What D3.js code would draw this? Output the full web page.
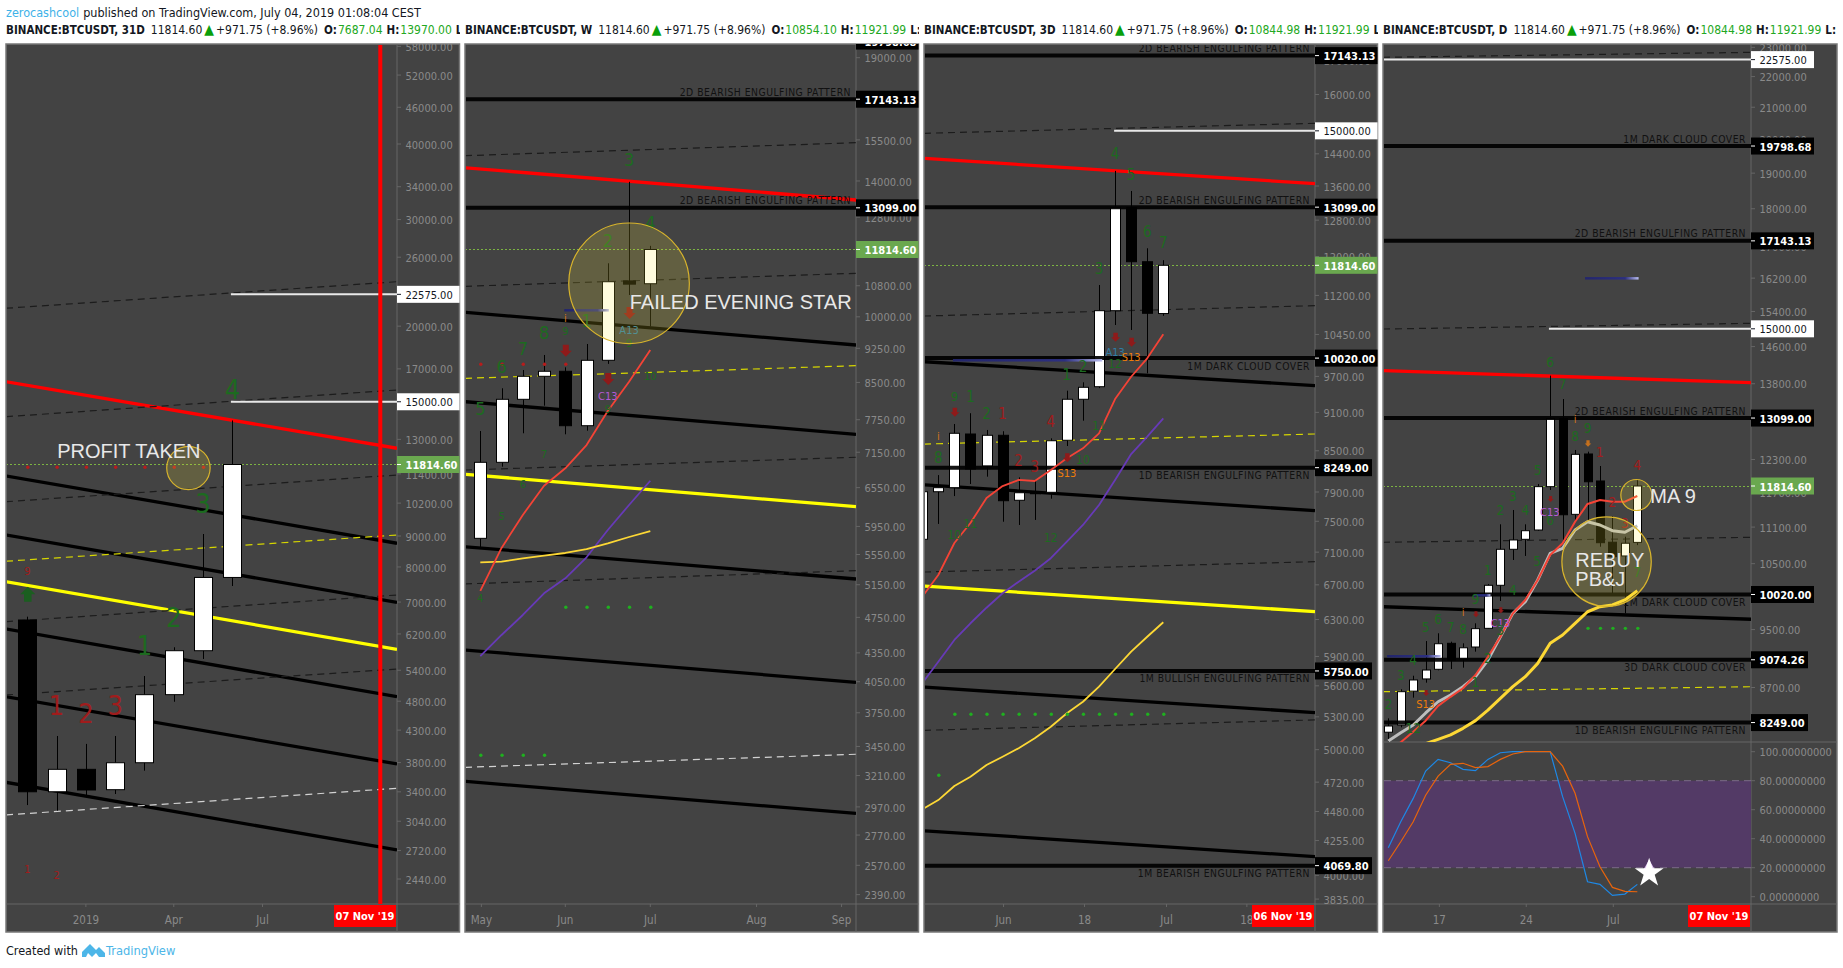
<!DOCTYPE html>
<html><head><meta charset="utf-8"><title>BTCUSDT</title>
<script src="https://cdn.jsdelivr.net/npm/d3@7"></script>
<style>html,body{margin:0;padding:0;background:#fff}svg{display:block}</style></head><body>
<svg id="c" width="1843" height="968"></svg>
<script>
// ---------- shared values ----------
const lastPrice = 11814.60;
const headerLine = "published on TradingView.com, July 04, 2019 01:08:04 CEST";
const patternBE2D = "2D BEARISH ENGULFING PATTERN", patternBE1D = "1D BEARISH ENGULFING PATTERN",
      patternBE1M = "1M BEARISH ENGULFING PATTERN", patternBU1M = "1M BULLISH ENGULFING PATTERN",
      patternDC1M = "1M DARK CLOUD COVER", patternDC3D = "3D DARK CLOUD COVER";

// ---------- 31D panel ----------
const p1Title = ["BINANCE:BTCUSDT, 31D", "7687.04", "13970.00"];
const p1Ohlc = [[6538,6621,3233,3401],[3401,4205,3165,3704],[3704,4080,3359,3424],[3428,4205,3372,3798],
  [3798,5283,3685,4921],[4921,5894,4790,5817],[5817,9069,5637,7687],[7687.04,13970,7441,11814.6]];
const p1Trends = [[16190,12566,"red"],[11309,8755,"black"],[9035,6993,"black"],[7563,5848,"yellow"],[6318,4883,"black"],
  [4883,3781,"black"],[3525,2725,"black"],[21408,23688,"dash"],[14172,15688,"dash"],[10255,11352,"dash"],[8175,9035,"ydash"],
  [6496,7191,"dash"],[4915,5425,"dash"],[3114,3446,"wdash"]];
const p1Ticks = [58000,52000,46000,40000,34000,30000,26000,20000,17000,13000,11400,10200,9000,8000,7000,6200,5400,4800,4300,3800,3400,3040,2720,2440];
const p1Whites = [[22575,6.95],[15000,6.95]];
const p1Levels = [];
const p1TimeTicks = [[2,"2019"],[5,"Apr"],[8.03,"Jul"]];
const p1Texts = [[7,15160,"4","g",27],[6,9812,"3","g",27],[5,6374,"2","g",27],[4,5723,"1","g",27],
  [1,4554,"1","r",27],[2,4412,"2","r",27],[3,4554,"3","r",27],[0,7759,"9","r",11],[0,2494,"1","r",11],[1,2437,"2","r",11]];
const p1Dots = [[0,11689,"r"],[1,11689,"r"],[2,11689,"r"],[3,11689,"r"],[4,11689,"r"],[5,11689,"r"],[6,11689,"r"]];
const p1Arrows = [[0,7420,"up",15]];
const p1Circles = [[5.5,11659,21.7]];
const p1Notes = [[1.02,12110,"PROFIT TAKEN"]];

// ---------- weekly panel ----------
const p2Title = ["BINANCE:BTCUSDT, W", "10854.10", "11921.99"];
const p2Ohlc = [[5777,7536,5636,6974],[6974,8378,6899,8152],[8152,8766,7494,8630],[8630,9098,8024,8738],[8738,8824,7475,7636],
  [7636,9349,7542,8979],[8979,11418,8900,10908],[10930,13970,10555,10843],[10854.1,11921.99,9760,11814.6]];
const p2Trends = [[14468,13355,"red"],[14905,15393,"dash"],[10785,11138,"dash"],[10112,9325,"black"],[8587,8860,"ydash"],[8104,7475,"black"],
  [6842,7062,"dash"],[6770,6248,"yellow"],[5658,5223,"black"],[5160,5332,"dash"],[4381,4044,"black"],[3276,3384,"wdash"],[3164,2923,"black"]];
const p2MaRed = [5071,5641,6121,6581,6871,7279,7919,8515,9211];
const p2MaPurple = [4316,4547,4778,5041,5232,5512,5898,6274,6663];
const p2MaYellow = [5444,5452,5498,5534,5571,5626,5706,5796,5882];
const p2Ticks = [19000,15500,14000,12800,11800,10800,10000,9250,8500,7750,7150,6550,5950,5550,5150,4750,4350,4050,3750,3450,3210,2970,2770,2570,2390];
const p2Levels = [[19798.68,""],[17143.13,patternBE2D,"above"],[13099,patternBE2D,"above"]];
const p2TimeTicks = [[0.05,"May"],[4,"Jun"],[8,"Jul"],[13,"Aug"],[17,"Sep"]];
const p2Texts = [[7,14530,"3","g",18],[8,12440,"4","g",18],[6,11879,"2","g",18],[5,9759,"1","g",18],[3,9459,"8","g",18],[2,9098,"7","g",18],[1,8707,"6","g",18],[0,7841,"5","g",18],
  [4,9553,"9","g",11],[7,9286,"9","g",11],[8,8552,"10","g",11],[6,7886,"9","g",11],[3,7044,"7","g",11],[2,6549,"6","g",11],[1,6046,"5","g",11],[0,4937,"4","g",11],
  [4,9880,"i","o",11],[7,9577,"A13","a",11],[6,8138,"C13","c",11]];
const p2Dots = [[0,3376,"g"],[1,3376,"g"],[2,3376,"g"],[3,3376,"g"],[4,4870,"g"],[5,4870,"g"],[6,4870,"g"],[7,4870,"g"],[8,4870,"g"],
  [0,8890,"r"],[1,8890,"r"],[2,8890,"r"],[3,8890,"r"],[4,8890,"r"]];
const p2Arrows = [[4,9059,"down",12],[7,9946,"down",12],[6,8445,"down",12]];
const p2Bands = [[3.95,6.05,10163]];
const p2Circles = [[7,10866,60.3]];
const p2Notes = [[7.03,10196,"FAILED EVENING STAR"]];

// ---------- 3D panel ----------
const p3Title = ["BINANCE:BTCUSDT, 3D", "10844.98", "11921.99"];
const p3Ohlc = [[7264,7980,7200,7904],[7904,8141,7465,7961],[7961,8914,7843,8768],[8757,9086,8013,8229],[8274,8820,8118,8737],[8737,8800,7494,7779],
  [7785,8108,7451,7890],[7890,8071,7518,7885],[7896,8690,7807,8653],[8660,9457,8572,9314],[9314,9599,8966,9514],[9524,11408,9500,10900],
  [10900,13970,10626,13087],[13087,13481,10533,11890],[11890,12177,9753,10850],[10844.98,11921.99,10800,11814.6]];
const p3Trends = [[14286,13656,"red"],[14934,15202,"dash"],[10797,10997,"dash"],[9956,9542,"black"],[8602,8757,"ydash"],[8003,7642,"black"],
  [6854,6981,"dash"],[6686,6388,"yellow"],[5588,5339,"black"],[5175,5271,"dash"],[4330,4135,"black"]];
const p3MaRed = [6561,6818,7216,7477,7816,7984,8071,8056,8214,8387,8537,8768,9318,9694,10016,10452];
const p3MaPurple = [5626,5844,6075,6258,6433,6600,6737,6870,7024,7233,7451,7720,8071,8451,8715,9004];
const p3MaYellow = [4498,4572,4688,4766,4866,4938,5013,5102,5208,5334,5444,5592,5770,5950,6110,6269];
const p3Ticks = [17000,16000,15000,14400,13600,12800,12000,11200,10450,9700,9100,8500,7900,7500,7100,6700,6300,5900,5600,5300,5000,4720,4480,4255,4000,3835];
const p3Whites = [[15000,10.94]];
const p3Levels = [[17143.13,patternBE2D,"above"],[13099,patternBE2D,"above"],[10020,patternDC1M,"below"],[8249,patternBE1D,"below"],[5750,patternBU1M,"below"],[4069.8,patternBE1M,"below"]];
const p3TimeTicks = [[4.06,"Jun"],[9.1,"18"],[14.2,"Jul"],[19.2,"18"]];
const p3Texts = [[11,14261,"4","g",15],[12,13747,"5","g",15],[13,12430,"6","g",15],[14,12176,"7","g",15],[10,11634,"3","g",15],[9,9781,"2","g",15],[8,9638,"1","g",15],
  [11,9841,"12","g",12],[10,8820,"11","g",12],[9,8303,"10","g",12],[1,9285,"9","g",13],[2,9272,"1","g",15],[3,8989,"2","g",15],[4,8989,"1","r",15],[0,8313,"8","g",15],
  [5,8277,"2","r",15],[6,8190,"3","r",15],[7,8862,"4","r",15],[1,7264,"10","g",12],[2,7415,"11","g",12],[7,7226,"12","g",12],
  [0,8665,"i","o",11],[11,10062,"A13","a",11],[12,9969,"S13","s",11],[8,8118,"S13","s",11]];
const p3Dots = [[0,4778,"g"],[1,5324,"g"],[2,5324,"g"],[3,5324,"g"],[4,5324,"g"],[5,5324,"g"],[6,5324,"g"],[7,5324,"g"],[8,5324,"g"],[9,5324,"g"],[10,5324,"g"],[11,5324,"g"],[12,5324,"g"],[13,5324,"g"],[14,5324,"g"]];
const p3Arrows = [[1,9030,"down",9],[8,8328,"down",9],[11,10317,"down",9],[12,10226,"down",9]];
const p3Bands = [[0.91,10.2,9981]];

// ---------- daily panel ----------
const p4Title = ["BINANCE:BTCUSDT, D", "10844.98", "11921.99"];
const p4Ohlc = [[8129,8302,8013,8206],[8218,8677,8190,8645],[8652,8857,8567,8800],[8814,9336,8764,8934],[8944,9447,8930,9298],[9304,9327,8948,9071],[9085,9304,8966,9241],
  [9252,9591,9187,9513],[9518,10181,9510,10161],[10161,11147,9922,10732],[10732,11392,10559,10885],[10896,11147,10624,11039],[11051,11851,11040,11803],[11803,13970,11743,13090],
  [13090,13483,10885,11310],[11317,12479,11186,12397],[12403,12447,11220,11891],[11905,12179,10774,10840],[10848,11288,10039,10612],[10624,10939,9738,10831],[10844.98,11921.99,10800,11814.6]];
const p4Trends = [[22655,22825,"dash"],[14995,15126,"dash"],[14076,13822,"red"],[10847,10929,"dash"],[9836,9650,"black"],[8645,8710,"ydash"]];
const p4MaRed = [7912,8006,8136,8273,8460,8578,8690,8867,9116,9397,9737,9937,10243,10639,10830,11191,11497,11566,11537,11537,11636];
const p4MaGrey = [8022,8123,8218,8370,8514,8601,8711,8844,9071,9397,9737,9911,10243,10666,10748,11051,11191,11135,11039,11013,11123];
const p4MaYellow = [7936,7989,8042,8096,8177,8273,8407,8558,8711,8844,9025,9304,9422,9591,9761,9836,9862,9937,10078];
const p4Ticks = [23000,22000,21000,20000,19000,18000,17000,16200,15400,14600,13800,12300,11700,11100,10500,9500,8700];
const p4Whites = [[22575,-1],[15000,12.9]];
const p4Levels = [[19798.68,patternDC1M,"above"],[17143.13,patternBE2D,"above"],[13099,patternBE2D,"above"],[10020,patternDC1M,"below"],[9074.26,patternDC3D,"below"],[8249,patternBE1D,"below"]];
const p4TimeTicks = [[4.1,"17"],[11.08,"24"],[18.07,"Jul"]];
const p4Texts = [[13,14161,"6","g",13.5],[14,13683,"7","g",13.5],[15,12656,"8","g",13.5],[16,12798,"9","g",13.5],[12,12014,"5","g",13.5],[17,12352,"1","r",13.5],[20,12105,"4","r",13.5],[15,13007,"i","o",11],
  [10,11553,"3","g",13.5],[9,11305,"2","g",13.5],[11,11305,"4","g",13.5],[13,11135,"6","g",13.5],[12.97,11288,"C13","c",11],[11.95,10463,"5","g",13.5],[8,10320,"1","g",13.5],[10,10013,"4","g",13.5],[20,10294,"7","g",13.5],
  [18,11439,"2","r",13.5],[19,11080,"3","r",13.5],[7,9876,"9","g",13.5],[9,9533,"C13","c",11],[9,9422,"3","g",13.5],[3,9469,"5","g",13.5],[4,9581,"6","g",13.5],[5,9469,"7","g",13.5],[6,9436,"8","g",13.5],[6,9699,"i","o",11],
  [2,9003,"4","g",13.5],[1,8800,"3","g",13.5],[0,8417,"2","g",13.5],[8,9033,"2","g",13.5],[7,8710,"1","g",13.5],[2,8123,"12","g",13.5],[3,8430,"S13","s",11]];
const p4Dots = [[16,9518,"g"],[17,9518,"g"],[18,9518,"g"],[19,9518,"g"],[20,9518,"g"]];
const p4Arrows = [[16,12541,"down",6.5,"o"],[13,11531,"down",6,"r"],[9,9737,"down",6,"r"],[3,8588,"down",6,"r"],[7,9678,"down",6,"r"]];
const p4Bands = [[15.8,20.1,16195],[-0.1,4.2,9123],[6.87,8.2,10007]];
const p4Circles = [[19.92,11654,15.5],[17.53,10532,44.7]];
const p4Notes = [[15.02,10450,"REBUY"],[15.02,10150,"PB&J"],[21.04,11513,"MA 9"]];
const stochBlue = [33.8,51.7,67.8,86.7,94.7,92.4,87.8,86.9,94.7,99.3,100,100,100,100,69,43.7,10.3,8.5,0.9,1.8,8.5];
const stochOrange = [24.8,37.9,51.7,70,83.2,91.3,92,89,89.7,94.7,98.4,100,100,100,90,71.3,41.4,20.7,6.4,3.7,3.4];
const stochTicks = [100,80,60,40,20,0];
const stochBand = [20,80];
const stochStar = [20.95,16.3];

// ---------- drawing ----------
const svg = d3.select("#c");
const defs = svg.append("defs");
const UI = "'DejaVu Sans Condensed','DejaVu Sans',sans-serif";
const ARIAL = "'Liberation Sans',Arial,sans-serif";
const BG = "#434343", AXIS = "#666", TICK = "#8a8a8a", FRAME = "#787878";
const textColors = {g:"#1d6a20", r:"#a01c1c", o:"#d0741a", a:"#2f7da6", c:"#b45ad6", s:"#ef7d0a"};
const trendStyle = {red:["#f00",3.3,null], black:["#000",3.3,null], yellow:["#ff0",3.3,null], dash:["#1c1c1c",1.2,"7 5"], ydash:["#d6d600",1.2,"7 5"], wdash:["#d2d2d2",1.2,"7 5"]};
const dotColors = {g:"#1fb01f", r:"#b71c1c"};
let clipId = 0;

function clipRect(x,y,w,h){ const id="clip"+(clipId++); defs.append("clipPath").attr("id",id).append("rect").attr("x",x).attr("y",y).attr("width",w).attr("height",h); return "url(#"+id+")"; }

function drawPanel(p){
  const L=p.left, A=p.axis, R=p.right, T=44, TB=p.mainBottom||904, B=932, TM=904;
  const g = svg.append("g");
  g.append("rect").attr("x",L).attr("y",T).attr("width",R-L).attr("height",B-T).attr("fill",BG).attr("stroke",FRAME).attr("stroke-width",1.5);
  g.append("line").attr("x1",A).attr("x2",A).attr("y1",T).attr("y2",B).attr("stroke",AXIS);
  g.append("line").attr("x1",L).attr("x2",R).attr("y1",TM).attr("y2",TM).attr("stroke",AXIS);
  if(p.mainBottom) g.append("line").attr("x1",L).attr("x2",R).attr("y1",TB).attr("y2",TB).attr("stroke",AXIS);

  const x = d3.scaleLinear().domain(p.xDomain).range([L,A]);
  const pTop = p.anchor[0]*Math.exp((p.anchor[1]-T)/p.k), pBot = p.anchor[0]*Math.exp((p.anchor[1]-TB)/p.k);
  const y = d3.scaleLog().domain([pTop,pBot]).range([T,TB]);

  // header
  const head = svg.append("g").attr("clip-path",clipRect(L,20,R-L+0.5,20));
  const t = head.append("text").attr("x",L).attr("y",33.5).attr("font-family",UI).attr("font-size",12).attr("fill","#131722");
  t.append("tspan").attr("font-weight","bold").attr("font-size",11.5).text(p.title[0]);
  t.append("tspan").attr("dx",6).text(String(lastPrice.toFixed(2)));
  t.append("tspan").attr("dx",2).attr("fill","#0a9f0a").attr("font-size",14).text("▲");
  t.append("tspan").attr("dx",2).text("+971.75 (+8.96%)");
  t.append("tspan").attr("dx",6).attr("font-weight","bold").attr("font-size",11.5).text("O:");
  t.append("tspan").attr("dx",1).attr("fill","#22a822").text(p.title[1]);
  t.append("tspan").attr("dx",4).attr("font-weight","bold").attr("font-size",11.5).text("H:");
  t.append("tspan").attr("dx",1).attr("fill","#22a822").text(p.title[2]);
  t.append("tspan").attr("dx",4).attr("font-weight","bold").attr("font-size",11.5).text("L:");

  // price axis
  const ax = g.append("g").attr("clip-path",clipRect(A,T,R-A,TB-T));
  const tickG = ax.selectAll("g.t").data(p.ticks).join("g").attr("transform",d=>`translate(${A},${y(d)})`);
  tickG.append("line").attr("x2",4).attr("stroke",AXIS);
  tickG.append("text").attr("x",8.5).attr("dy","0.42em").attr("fill",TICK).attr("font-family",UI).attr("font-size",11).text(d=>d.toFixed(2));

  // time axis
  const tg = g.selectAll("g.x").data(p.timeTicks).join("g").attr("transform",d=>`translate(${x(d[0])},${TM})`);
  tg.append("line").attr("y2",3).attr("stroke",AXIS);
  tg.append("text").attr("y",19.5).attr("text-anchor","middle").attr("fill",TICK).attr("font-family",UI).attr("font-size",11.5).text(d=>d[1]);

  const pane = svg.append("g").attr("clip-path",clipRect(L+1,T+1,A-L-1,TB-T-1));
  const ends = p.xDomain;

  // trend lines
  pane.selectAll("line.trend").data(p.trends).join("line")
    .attr("x1",x(ends[0])).attr("x2",x(ends[1])).attr("y1",d=>y(d[0])).attr("y2",d=>y(d[1]))
    .attr("stroke",d=>trendStyle[d[2]][0]).attr("stroke-width",d=>trendStyle[d[2]][1]).attr("stroke-dasharray",d=>trendStyle[d[2]][2]);

  // last price line
  const lpY = Math.round(y(lastPrice))+.5;
  pane.append("line").attr("x1",L).attr("x2",A).attr("y1",lpY).attr("y2",lpY).attr("stroke","#7cb342").attr("stroke-dasharray","2 2");

  // candles
  const first = p.first||0;
  const c = pane.selectAll("g.c").data(p.ohlc).join("g").attr("transform",(d,i)=>`translate(${Math.round(x(i+first))+.5},0)`);
  c.append("line").attr("y1",d=>y(d[1])).attr("y2",d=>y(d[2])).attr("stroke","#000");
  c.append("rect").attr("x",-p.bw/2).attr("width",p.bw)
    .attr("y",d=>y(Math.max(d[0],d[3]))).attr("height",d=>Math.max(1,Math.abs(y(d[0])-y(d[3]))))
    .attr("fill",d=>d[3]>=d[0]?"#fff":"#000").attr("stroke","#000");

  // horizontal levels
  pane.selectAll("line.lv").data(p.levels).join("line").attr("x1",L).attr("x2",A).attr("y1",d=>y(d[0])).attr("y2",d=>y(d[0])).attr("stroke","#000").attr("stroke-width",4).attr("stroke-opacity",.92);
  pane.selectAll("text.lv").data(p.levels.filter(d=>d[1])).join("text")
    .attr("x",A-5).attr("y",d=>y(d[0])+(d[2]==="above"?-3.5:11.5)).attr("text-anchor","end")
    .attr("fill","#111").attr("font-family",UI).attr("font-size",10.3).attr("letter-spacing",.5).text(d=>d[1]);
  // white levels
  pane.selectAll("line.wh").data(p.whites||[]).join("line").attr("x1",d=>x(d[1])).attr("x2",A).attr("y1",d=>y(d[0])).attr("y2",d=>y(d[0])).attr("stroke","#e8e8e8").attr("stroke-width",2);

  // band segments
  (p.bands||[]).forEach((d,i)=>{
    const gid="bandg"+p.key+i;
    const lg=defs.append("linearGradient").attr("id",gid);
    lg.append("stop").attr("offset",0).attr("stop-color","#23266b");
    lg.append("stop").attr("offset",.75).attr("stop-color","#2c2f80");
    lg.append("stop").attr("offset",1).attr("stop-color","#b9bcf0");
    pane.append("rect").attr("x",x(d[0])).attr("width",x(d[1])-x(d[0])).attr("y",y(d[2])-1.25).attr("height",2.5).attr("fill",`url(#${gid})`);
  });

  // moving averages
  const mkLine = off => d3.line().x((d,i)=>x(i+off)).y(d=>y(d));
  (p.mas||[]).forEach(m=>pane.append("path").attr("d",mkLine(m.from)(m.v)).attr("fill","none").attr("stroke",m.color).attr("stroke-width",m.w).attr("stroke-linejoin","round"));

  // dots
  pane.selectAll("circle.d").data(p.dots||[]).join("circle").attr("cx",d=>x(d[0])+.5).attr("cy",d=>y(d[1])).attr("r",1.7).attr("fill",d=>dotColors[d[2]]);

  // sequential numbers
  pane.selectAll("text.n").data(p.texts||[]).join("text").attr("x",d=>x(d[0])).attr("y",d=>y(d[1]))
    .attr("text-anchor","middle").attr("font-family",UI).attr("font-size",d=>d[4]).attr("fill",d=>textColors[d[3]]).text(d=>d[2]);

  // arrows
  pane.selectAll("path.a").data(p.arrows||[]).join("path").attr("transform",d=>`translate(${x(d[0])+.5},${y(d[1])})`)
    .attr("fill",d=>d[2]==="up"?"#1b5e20":(d[4]==="o"?"#c5701d":"#8f1a1a"))
    .attr("d",d=>{const s=d[3]; const q=s/12; const sgn=d[2]==="up"?1:-1;
      return d3.line()([[0,0],[6*q,6*q*sgn],[3*q,6*q*sgn],[3*q,12*q*sgn],[-3*q,12*q*sgn],[-3*q,6*q*sgn],[-6*q,6*q*sgn]])+"Z";});

  // circles
  pane.selectAll("circle.h").data(p.circles||[]).join("circle").attr("cx",d=>x(d[0])).attr("cy",d=>y(d[1])).attr("r",d=>d[2])
    .attr("fill","rgba(255,235,59,.17)").attr("stroke","#d8b42c").attr("stroke-width",1.2);

  // notes
  pane.selectAll("text.note").data(p.notes||[]).join("text").attr("x",d=>x(d[0])).attr("y",d=>y(d[1]))
    .attr("font-family",ARIAL).attr("font-size",20).attr("fill","#e8e8e8").text(d=>d[2]);

  // price labels
  const labels = [];
  p.levels.forEach(d=>labels.push([d[0],"#000","#fff","bold"]));
  (p.whites||[]).forEach(d=>labels.push([d[0],"#fff","#131722","normal"]));
  labels.push([lastPrice,"#6aa84f","#fff","bold"]);
  const lb = ax.selectAll("g.lb").data(labels).join("g").attr("transform",d=>`translate(${A},${y(d[0])})`);
  lb.append("rect").attr("y",-8.5).attr("height",17).attr("width",d=>d[0]>=10000?63:57).attr("fill",d=>d[1]);
  lb.append("line").attr("x2",4).attr("stroke",d=>d[2]);
  lb.append("text").attr("x",8.5).attr("dy","0.42em").attr("fill",d=>d[2]).attr("font-weight",d=>d[3]).attr("font-family",UI).attr("font-size",11).text(d=>d[0].toFixed(2));

  // forecast marker
  if(p.marker){
    const mx=x(p.marker[0]);
    if(p.marker[2]) svg.append("line").attr("x1",mx).attr("x2",mx).attr("y1",T+1).attr("y2",TM).attr("stroke","#f00").attr("stroke-width",4);
    const lx = A-1, ww=62;
    svg.append("rect").attr("x",lx-ww).attr("y",TM+1).attr("width",ww).attr("height",22).attr("fill","#f00");
    svg.append("text").attr("x",lx-ww/2).attr("y",TM+16).attr("text-anchor","middle").attr("fill","#fff").attr("font-weight","bold").attr("font-family",UI).attr("font-size",11).text(p.marker[1]);
  }
  return {x,y,g};
}

const panels = [
 {key:"a",left:6,axis:397,right:459.5,xDomain:[-0.727,12.62],anchor:[lastPrice,464.5],k:262.8,title:p1Title,ohlc:p1Ohlc,trends:p1Trends,ticks:p1Ticks,levels:p1Levels,whites:p1Whites,timeTicks:p1TimeTicks,texts:p1Texts,dots:p1Dots,arrows:p1Arrows,circles:p1Circles,notes:p1Notes,bw:18,marker:[12.05,"07 Nov '19",true]},
 {key:"b",left:465,axis:856,right:918.5,xDomain:[-0.72,17.68],anchor:[lastPrice,249.5],k:403.7,title:p2Title,ohlc:p2Ohlc,trends:p2Trends,ticks:p2Ticks,levels:p2Levels,timeTicks:p2TimeTicks,texts:p2Texts,dots:p2Dots,arrows:p2Arrows,bands:p2Bands,circles:p2Circles,notes:p2Notes,bw:12,
   mas:[{v:p2MaPurple,from:0,color:"#673ab7",w:1.8},{v:p2MaYellow,from:0,color:"#fdd835",w:1.8},{v:p2MaRed,from:0,color:"#f44336",w:1.8}]},
 {key:"c",left:924,axis:1315,right:1377.5,xDomain:[-0.89,23.44],anchor:[lastPrice,265.3],k:563.3,title:p3Title,first:-1,ohlc:p3Ohlc,trends:p3Trends,ticks:p3Ticks,levels:p3Levels,whites:p3Whites,timeTicks:p3TimeTicks,texts:p3Texts,dots:p3Dots,arrows:p3Arrows,bands:p3Bands,bw:10,marker:[19,"06 Nov '19",false],
   mas:[{v:p3MaPurple,from:-1,color:"#673ab7",w:1.8},{v:p3MaYellow,from:-1,color:"#fdd835",w:1.8},{v:p3MaRed,from:-1,color:"#f44336",w:1.8}]},
 {key:"d",left:1383,axis:1751,right:1837,mainBottom:742,xDomain:[-0.426,29.13],anchor:[lastPrice,486],k:658.5,title:p4Title,ohlc:p4Ohlc,trends:p4Trends,ticks:p4Ticks,levels:p4Levels,whites:p4Whites,timeTicks:p4TimeTicks,texts:p4Texts,dots:p4Dots,arrows:p4Arrows,bands:p4Bands,circles:p4Circles,notes:p4Notes,bw:8,marker:[24,"07 Nov '19",false],
   mas:[{v:p4MaGrey,from:0,color:"#bdbdbd",w:3},{v:p4MaYellow,from:2,color:"#fdd835",w:3},{v:p4MaRed,from:0,color:"#f44336",w:2}]}
];
const drawn = panels.map(drawPanel);

// oscillator pane of the daily panel
const dx = drawn[3].x, P4 = panels[3];
const sy = d3.scaleLinear().domain([0,100]).range([896.7,751.7]);
const osc = svg.append("g");
osc.append("rect").attr("x",P4.left+1).attr("width",P4.axis-P4.left-1).attr("y",sy(stochBand[1])).attr("height",sy(stochBand[0])-sy(stochBand[1])).attr("fill","#533a66");
osc.selectAll("line.b").data(stochBand).join("line").attr("x1",P4.left+1).attr("x2",P4.axis).attr("y1",d=>sy(d)).attr("y2",d=>sy(d)).attr("stroke","#7c6a88").attr("stroke-dasharray","7 5");
const st = d3.line().x((d,i)=>dx(i)).y(d=>sy(d));
osc.append("path").attr("d",st(stochBlue)).attr("fill","none").attr("stroke","#1e88e5").attr("stroke-width",1.2);
osc.append("path").attr("d",st(stochOrange)).attr("fill","none").attr("stroke","#e8640c").attr("stroke-width",1.2);
const stg = osc.selectAll("g.s").data(stochTicks).join("g").attr("transform",d=>`translate(${P4.axis},${sy(d)})`);
stg.append("line").attr("x2",4).attr("stroke",AXIS);
stg.append("text").attr("x",8.5).attr("dy","0.42em").attr("fill",TICK).attr("font-family",UI).attr("font-size",11).text(d=>d.toFixed(8));
const sx = dx(stochStar[0]), sp = sy(stochStar[1]);
osc.append("path").attr("transform",`translate(${sx},${sp-6})`).attr("fill","#e2c6f5").attr("d",d3.symbol(d3.symbolTriangle,70)());
osc.append("path").attr("transform",`translate(${sx},${sp})`).attr("fill","#fff").attr("d",d3.symbol(d3.symbolStar,260)());

// page header & footer
const topLine = svg.append("text").attr("x",6).attr("y",17).attr("font-family",UI).attr("font-size",12.5);
topLine.append("tspan").attr("fill","#3db2e8").text("zerocashcool");
topLine.append("tspan").attr("dx",4).attr("fill","#131722").text(headerLine);
const foot = svg.append("text").attr("x",6).attr("y",955).attr("font-family",UI).attr("font-size",12.5).attr("fill","#131722").text("Created with");
svg.append("text").attr("x",106).attr("y",955).attr("font-family",UI).attr("font-size",12.8).attr("fill","#4db6e8").text("TradingView");
svg.append("path").attr("fill","#4db6e8").attr("d",d3.line().curve(d3.curveLinearClosed)([[82,957],[82,952],[90,944],[96,950],[99,947],[105,953],[105,957],[99,957],[96,953],[92,957],[88,953],[86,957]]));
</script></body></html>
